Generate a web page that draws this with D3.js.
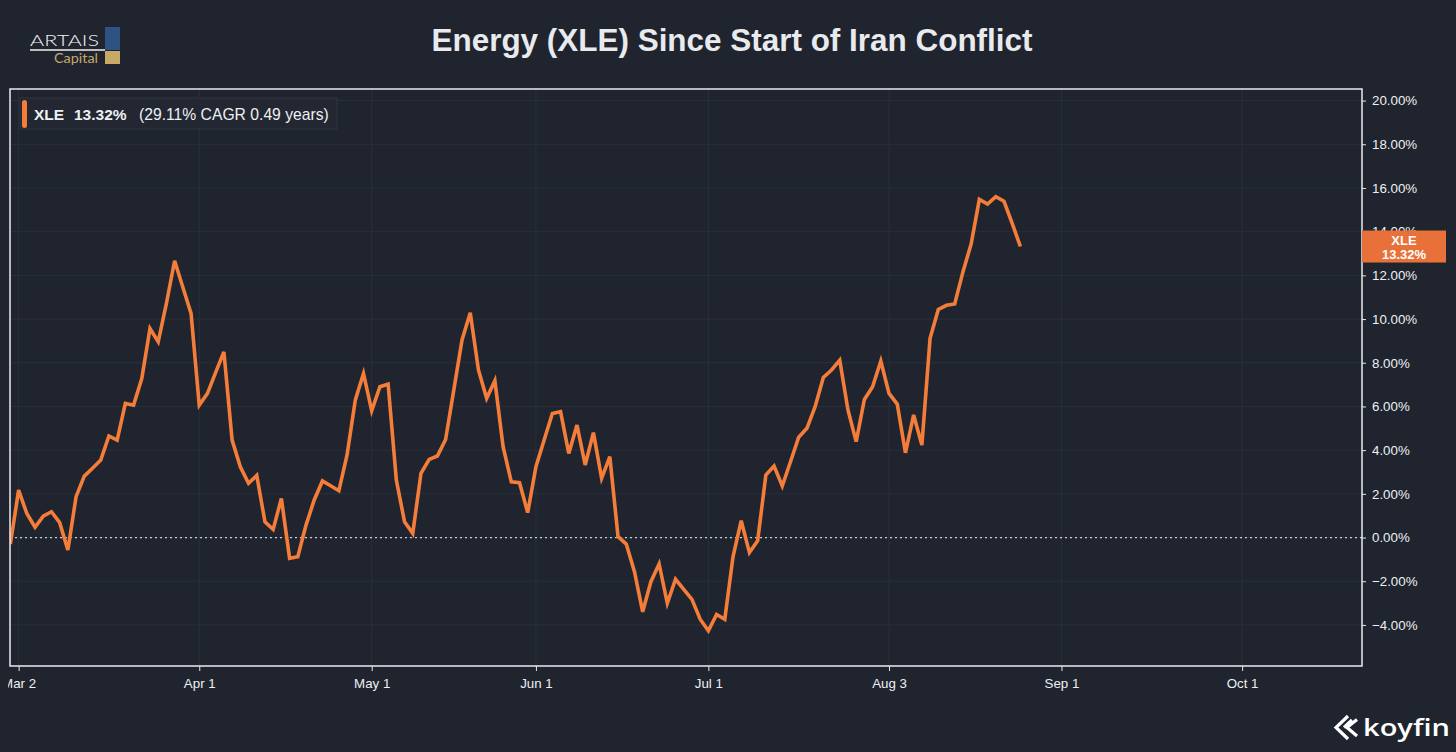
<!DOCTYPE html>
<html>
<head>
<meta charset="utf-8">
<script src="https://cdn.jsdelivr.net/npm/d3@7"></script>
<style>
  html, body { margin: 0; padding: 0; background: #1f242e; }
  svg { display: block; }
</style>
</head>
<body>
<div id="chart"></div>
<script>
// trading sessions, first one is the base day before the conflict started
var dates = [
  "2026-02-27",
  "2026-03-02","2026-03-03","2026-03-04","2026-03-05","2026-03-06","2026-03-09","2026-03-10","2026-03-11",
  "2026-03-12","2026-03-13","2026-03-16","2026-03-17","2026-03-18","2026-03-19","2026-03-20","2026-03-23",
  "2026-03-24","2026-03-25","2026-03-26","2026-03-27","2026-03-30","2026-03-31",
  "2026-04-01","2026-04-02","2026-04-06","2026-04-07","2026-04-08","2026-04-09","2026-04-10","2026-04-13",
  "2026-04-14","2026-04-15","2026-04-16","2026-04-17","2026-04-20","2026-04-21","2026-04-22","2026-04-23",
  "2026-04-24","2026-04-27","2026-04-28","2026-04-29","2026-04-30",
  "2026-05-01","2026-05-04","2026-05-05","2026-05-06","2026-05-07","2026-05-08","2026-05-11","2026-05-12",
  "2026-05-13","2026-05-14","2026-05-15","2026-05-18","2026-05-19","2026-05-20","2026-05-21","2026-05-22",
  "2026-05-26","2026-05-27","2026-05-28","2026-05-29",
  "2026-06-01","2026-06-02","2026-06-03","2026-06-04","2026-06-05","2026-06-08","2026-06-09","2026-06-10",
  "2026-06-11","2026-06-12","2026-06-15","2026-06-16","2026-06-17","2026-06-18","2026-06-22","2026-06-23",
  "2026-06-24","2026-06-25","2026-06-26","2026-06-29","2026-06-30",
  "2026-07-01","2026-07-02","2026-07-06","2026-07-07","2026-07-08","2026-07-09","2026-07-10","2026-07-13",
  "2026-07-14","2026-07-15","2026-07-16","2026-07-17","2026-07-20","2026-07-21","2026-07-22","2026-07-23",
  "2026-07-24","2026-07-27","2026-07-28","2026-07-29","2026-07-30","2026-07-31",
  "2026-08-03","2026-08-04","2026-08-05","2026-08-06","2026-08-07","2026-08-10","2026-08-11","2026-08-12",
  "2026-08-13","2026-08-14","2026-08-17","2026-08-18","2026-08-19","2026-08-20","2026-08-21","2026-08-24",
  "2026-08-25"
];

// XLE total return since start, in %
var xleReturn = [
  -0.30,
  2.17, 1.10, 0.47, 0.98, 1.18, 0.68, -0.57, 1.87, 2.81, 3.17, 3.55, 4.65, 4.46, 6.14, 6.06, 7.28,
  9.57, 8.96, 10.72, 12.67, 11.46, 10.26,
  6.06, 6.60, 7.56, 8.50, 4.46, 3.24, 2.48, 2.84, 0.72, 0.37, 1.79, -0.95, -0.88, 0.57, 1.72, 2.59,
  2.37, 2.14, 3.78, 6.29, 7.51,
  5.80, 6.90, 7.02, 2.63, 0.72, 0.19, 2.94, 3.58, 3.73, 4.49, 6.76, 9.04, 10.29, 7.67, 6.37, 7.18,
  4.16, 2.55, 2.51, 1.14,
  3.24, 4.46, 5.68, 5.76, 3.85, 5.15, 3.32, 4.80, 2.71, 3.70, 0.04, -0.30, -1.56, -3.40, -2.02, -1.21,
  -3.01, -1.91, -2.37, -2.83, -3.74,
  -4.27, -3.52, -3.74, -0.88, 0.77, -0.69, -0.15, 2.86, 3.27, 2.36, 3.47, 4.59, 5.00, 5.99, 7.33,
  7.67, 8.12, 5.84, 4.39, 6.32, 6.90, 8.08,
  6.60, 6.11, 3.88, 5.61, 4.23, 9.12, 10.44, 10.63, 10.69, 12.16, 13.43, 15.48, 15.26, 15.60, 15.39, 14.38,
  13.32
];

var xTickLabels = ["Mar 2", "Apr 1", "May 1", "Jun 1", "Jul 1", "Aug 3", "Sep 1", "Oct 1"];
var xTickSessions = [0, 22, 43, 63, 84, 106, 127, 149];
var yTicks = [-4, -2, 0, 2, 4, 6, 8, 10, 12, 14, 16, 18, 20];

var seriesName = "XLE";
var lastLabel = "13.32%";
var cagrText = "(29.11% CAGR 0.49 years)";

var data = dates.map(function (d, i) {
    return { date: d, session: i - 1, value: xleReturn[i] };
});

var W = 1456, H = 752;
var plot = { left: 10, right: 1362, top: 89, bottom: 666 };
var orange = "#f47d3a";
var textColor = "#eef0f2";
var font = "'Liberation Sans', Arial, Helvetica, sans-serif";

var svg = d3.select("#chart").append("svg")
    .attr("width", W)
    .attr("height", H)
    .style("font-family", font);

svg.append("rect")
    .attr("width", W).attr("height", H)
    .attr("fill", "#1f242e");

//scales
var x = d3.scaleLinear()
    .domain([-1, 163.6])
    .range([plot.left + 0.4, plot.right]);

var y = d3.scaleLinear()
    .domain([-5.88, 20.53])
    .range([plot.bottom, plot.top]);

// grid
var grid = svg.append("g").attr("class", "grid");
grid.selectAll(".hgrid")
    .data(yTicks)
    .enter().append("line")
    .attr("x1", plot.left).attr("x2", plot.right)
    .attr("y1", function (d) { return y(d); })
    .attr("y2", function (d) { return y(d); })
    .attr("stroke", "#2a303b")
    .attr("stroke-width", 1);

grid.selectAll(".vgrid")
    .data(xTickSessions)
    .enter().append("line")
    .attr("y1", plot.top).attr("y2", plot.bottom)
    .attr("x1", function (d) { return x(d); })
    .attr("x2", function (d) { return x(d); })
    .attr("stroke", "#2a303b")
    .attr("stroke-width", 1);

// zero line
svg.append("line")
    .attr("x1", plot.left).attr("x2", plot.right)
    .attr("y1", y(0)).attr("y2", y(0))
    .attr("stroke", "#c9ced6")
    .attr("stroke-width", 1.2)
    .attr("stroke-dasharray", "2,3");

// right axis
var yAxis = d3.axisRight(y)
    .tickValues(yTicks)
    .tickSize(4)
    .tickPadding(6)
    .tickFormat(function (d) { return d3.format(".2f")(d) + "%"; });

var yg = svg.append("g")
    .attr("transform", "translate(" + plot.right + ",0)")
    .call(yAxis);
yg.select(".domain").remove();
yg.selectAll("line").attr("stroke", "#e6e8ea");
yg.selectAll("text")
    .attr("fill", textColor)
    .style("font-size", "13.3px")
    .style("font-family", font);

// bottom axis, labels are cut at the left edge like in the koyfin export
svg.append("clipPath").attr("id", "xclip")
    .append("rect")
    .attr("x", 8).attr("y", plot.bottom - 2)
    .attr("width", W).attr("height", 60);

var xAxis = d3.axisBottom(x)
    .tickValues(xTickSessions)
    .tickSize(5)
    .tickPadding(8)
    .tickFormat(function (d, i) { return xTickLabels[i]; });

var xg = svg.append("g")
    .attr("clip-path", "url(#xclip)")
    .append("g")
    .attr("transform", "translate(0," + plot.bottom + ")")
    .call(xAxis);
xg.select(".domain").remove();
xg.selectAll("line").attr("stroke", "#e6e8ea");
xg.selectAll("text")
    .attr("fill", textColor)
    .style("font-size", "13.3px")
    .style("font-family", font);

// line
svg.append("clipPath").attr("id", "plotclip")
    .append("rect")
    .attr("x", plot.left).attr("y", plot.top)
    .attr("width", plot.right - plot.left)
    .attr("height", plot.bottom - plot.top);

var valueline = d3.line()
    .x(function (d) { return x(d.session); })
    .y(function (d) { return y(d.value); });

svg.append("path")
    .datum(data)
    .attr("clip-path", "url(#plotclip)")
    .attr("d", valueline)
    .attr("fill", "none")
    .attr("stroke", orange)
    .attr("stroke-width", 3.6)
    .attr("stroke-linejoin", "miter")
    .attr("stroke-miterlimit", 4);

// frame
svg.append("rect")
    .attr("x", plot.left).attr("y", plot.top)
    .attr("width", plot.right - plot.left)
    .attr("height", plot.bottom - plot.top)
    .attr("fill", "none")
    .attr("stroke", "#e9ebee")
    .attr("stroke-width", 1.5);

// legend
var lg = svg.append("g");
lg.append("rect")
    .attr("x", 20).attr("y", 98)
    .attr("width", 317).attr("height", 31)
    .attr("fill", "#222732")
    .attr("stroke", "#2e343f");
lg.append("rect")
    .attr("x", 22).attr("y", 100)
    .attr("width", 5).attr("height", 28)
    .attr("rx", 2.5)
    .attr("fill", orange);
lg.append("text")
    .attr("x", 34).attr("y", 120)
    .attr("fill", textColor)
    .style("font-size", "15.5px")
    .style("font-weight", "bold")
    .text(seriesName);
lg.append("text")
    .attr("x", 74).attr("y", 120)
    .attr("fill", textColor)
    .style("font-size", "15.5px")
    .style("font-weight", "bold")
    .text(lastLabel);
lg.append("text")
    .attr("x", 139).attr("y", 120)
    .attr("fill", textColor)
    .style("font-size", "15.7px")
    .text(cagrText);

// last value tag on the right axis
var last = data[data.length - 1];
var tag = svg.append("g");
tag.append("rect")
    .attr("x", plot.right).attr("y", y(last.value) - 16)
    .attr("width", 84).attr("height", 32)
    .attr("fill", "#e8713a");
tag.append("text")
    .attr("x", plot.right + 42).attr("y", y(last.value) - 1.5)
    .attr("text-anchor", "middle")
    .attr("fill", "#ffffff")
    .style("font-size", "13px")
    .style("font-weight", "bold")
    .text(seriesName);
tag.append("text")
    .attr("x", plot.right + 42).attr("y", y(last.value) + 12)
    .attr("text-anchor", "middle")
    .attr("fill", "#ffffff")
    .style("font-size", "13px")
    .style("font-weight", "bold")
    .text(lastLabel);

// title
svg.append("text")
    .attr("x", 732).attr("y", 51)
    .attr("text-anchor", "middle")
    .attr("fill", "#e8eaed")
    .attr("textLength", 601)
    .attr("lengthAdjust", "spacingAndGlyphs")
    .style("font-size", "31.3px")
    .style("font-weight", "bold")
    .text("Energy (XLE) Since Start of Iran Conflict");

// Artais Capital logo
var logo = svg.append("g");
logo.append("text")
    .attr("x", 30).attr("y", 46)
    .attr("fill", "#f2f2f2")
    .attr("textLength", 69)
    .attr("lengthAdjust", "spacingAndGlyphs")
    .style("font-family", "Lato, 'Open Sans', sans-serif")
    .style("font-weight", 300)
    .style("font-size", "16px")
    .text("ARTAIS");
logo.append("line")
    .attr("x1", 30).attr("x2", 105)
    .attr("y1", 50).attr("y2", 50)
    .attr("stroke", "#f2f2f2")
    .attr("stroke-width", 1.5);
logo.append("text")
    .attr("x", 54).attr("y", 63)
    .attr("fill", "#c6a86c")
    .attr("textLength", 44)
    .attr("lengthAdjust", "spacingAndGlyphs")
    .style("font-family", "Lato, 'Open Sans', sans-serif")
    .style("font-size", "13.5px")
    .text("Capital");
logo.append("rect")
    .attr("x", 105).attr("y", 27)
    .attr("width", 15).attr("height", 23)
    .attr("fill", "#2e5282");
logo.append("rect")
    .attr("x", 105).attr("y", 51)
    .attr("width", 15).attr("height", 13)
    .attr("fill", "#c8a968");

// koyfin logo
var kf = svg.append("g");
kf.append("path")
    .attr("d", "M1348,716 L1336,727.5 L1348,739")
    .attr("fill", "none").attr("stroke", "#ffffff").attr("stroke-width", 3.2)
    .attr("stroke-linejoin", "miter");
kf.append("path")
    .attr("d", "M1357,719.5 L1347,727.5 L1357,736 M1344,727.5 L1352,720")
    .attr("fill", "none").attr("stroke", "#ffffff").attr("stroke-width", 3.2)
    .attr("stroke-linejoin", "miter");
kf.append("text")
    .attr("x", 1363).attr("y", 736)
    .attr("fill", "#ffffff")
    .attr("textLength", 87)
    .attr("lengthAdjust", "spacingAndGlyphs")
    .style("font-family", "'Open Sans', sans-serif")
    .style("font-weight", 600)
    .style("font-size", "23px")
    .text("koyfin");
</script>
</body>
</html>
